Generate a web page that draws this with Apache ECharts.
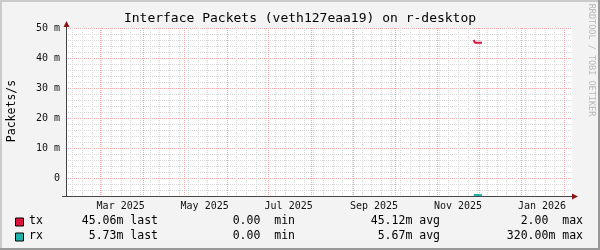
<!DOCTYPE html>
<html><head><meta charset="utf-8">
<script src="https://cdn.jsdelivr.net/npm/echarts@6/dist/echarts.min.js"></script>
<style>html,body{margin:0;padding:0;background:#f3f3f3}#c{width:600px;height:250px}</style>
</head><body><div id="c"></div>
<script>
const chartTitle = 'Interface Packets (veth127eaa19) on r-desktop';
const yAxisName = 'Packets/s';
const watermark = 'RRDTOOL / TOBI OETIKER';
// samples (values in milli packets/s; rx drawn mirrored below zero)
const sampleTimes = ['2025-11-27T10:00Z','2025-11-28T06:00Z','2025-11-29T00:00Z','2025-11-30T00:00Z','2025-12-01T00:00Z','2025-12-02T00:00Z','2025-12-03T10:00Z'];
const txValues = [46.0, 46.0, 45.1, 45.1, 45.1, 45.05, 45.06];
const rxValues = [-5.6, -5.6, -5.7, -5.65, -5.7, -5.7, -5.73];
// axes
const xStart = '2025-02-04T07:00Z';
const xEnd = '2026-02-06T19:00Z';
const monthGrid = ['2025-03-01','2025-04-01','2025-05-01','2025-06-01','2025-07-01','2025-08-01','2025-09-01','2025-10-01','2025-11-01','2025-12-01','2026-01-01','2026-02-01'];
const labelTimes = ['2025-03-16','2025-05-16','2025-07-16','2025-09-16','2025-11-16','2026-01-16'];
const labelTexts = ['Mar 2025','May 2025','Jul 2025','Sep 2025','Nov 2025','Jan 2026'];
const firstWeekLine = '2025-02-09';
const yTickValues = [0, 10, 20, 30, 40, 50];
const yTickTexts = ['0', '10 m', '20 m', '30 m', '40 m', '50 m'];
// legend
const seriesNames = ['tx', 'rx'];
const seriesColors = ['#DC143C', '#20B2AA'];
const lastTexts = ['45.06m last', '5.73m last'];
const minTexts = ['0.00  min', '0.00  min'];
const avgTexts = ['45.12m avg', '5.67m avg'];
const maxTexts = ['2.00  max', '320.00m max'];

const ts = s => new Date(s.length === 10 ? s + 'T00:00:00Z' : s).getTime();
const DAY = 86400000;
const MAJOR = '#f2a8a8';
const MINOR = '#d6d6d6';
const FONT = 'DejaVu Sans Mono';

const gridLines = [];
const monthTs = monthGrid.map(ts);
for (let t = ts(firstWeekLine); t < ts(xEnd); t += 7 * DAY) {
  if (monthTs.some(m => Math.abs(m - t) < DAY / 2)) continue;
  gridLines.push([t, 0]);
}
monthTs.forEach(t => gridLines.push([t, 1]));

const chart = echarts.init(document.getElementById('c'), null, { renderer: 'canvas' });

const graphics = [
  { type: 'rect', shape: { x: 0, y: 0, width: 600, height: 2 }, style: { fill: '#cbcbcb' }, z: -9 },
  { type: 'rect', shape: { x: 0, y: 0, width: 2, height: 250 }, style: { fill: '#cbcbcb' }, z: -9 },
  { type: 'rect', shape: { x: 0, y: 248, width: 600, height: 2 }, style: { fill: '#999999' }, z: -9 },
  { type: 'rect', shape: { x: 598, y: 0, width: 2, height: 250 }, style: { fill: '#999999' }, z: -9 },
  { type: 'text', x: 300, y: 19, style: { text: chartTitle, font: '13px "' + FONT + '"', fill: '#000', align: 'center', verticalAlign: 'middle' } },
  { type: 'text', x: 12, y: 111, rotation: Math.PI / 2, style: { text: yAxisName, font: '11.5px "' + FONT + '"', fill: '#000', align: 'center', verticalAlign: 'middle' } },
  { type: 'text', x: 591, y: 60, rotation: -Math.PI / 2, style: { text: watermark, font: '8.5px "' + FONT + '"', fill: '#b8b8b8', align: 'center', verticalAlign: 'middle' } },
  { type: 'line', shape: { x1: 66.5, y1: 24, x2: 66.5, y2: 28 }, style: { stroke: '#444', lineWidth: 1 }, z: 10 },
  { type: 'polygon', shape: { points: [[66.5, 21], [63.5, 27], [69.5, 27]] }, style: { fill: '#8b1515' }, z: 10 },
  { type: 'line', shape: { x1: 62, y1: 196.5, x2: 66, y2: 196.5 }, style: { stroke: '#444', lineWidth: 1 }, z: 10 },
  { type: 'polygon', shape: { points: [[578, 196.5], [572, 193.5], [572, 199.5]] }, style: { fill: '#8b1515' }, z: 10 }
];
seriesNames.forEach((n, i) => {
  const y = 221.5 + 15 * i;
  graphics.push({ type: 'rect', shape: { x: 15.5, y: y - 3.5, width: 8, height: 8 }, style: { fill: seriesColors[i], stroke: '#000', lineWidth: 1 } });
  const f = '11.5px "' + FONT + '"';
  graphics.push({ type: 'text', x: 29, y: y, style: { text: n, font: f, fill: '#000', align: 'left', verticalAlign: 'middle' } });
  graphics.push({ type: 'text', x: 158, y: y, style: { text: lastTexts[i], font: f, fill: '#000', align: 'right', verticalAlign: 'middle' } });
  graphics.push({ type: 'text', x: 295, y: y, style: { text: minTexts[i], font: f, fill: '#000', align: 'right', verticalAlign: 'middle' } });
  graphics.push({ type: 'text', x: 440, y: y, style: { text: avgTexts[i], font: f, fill: '#000', align: 'right', verticalAlign: 'middle' } });
  graphics.push({ type: 'text', x: 583, y: y, style: { text: maxTexts[i], font: f, fill: '#000', align: 'right', verticalAlign: 'middle' } });
});

const option = {
  backgroundColor: '#f3f3f3',
  animation: false,
  grid: { left: 66, right: 28, top: 28, bottom: 54, show: true, backgroundColor: '#ffffff', borderWidth: 0 },
  xAxis: {
    type: 'value', min: ts(xStart), max: ts(xEnd),
    axisLine: { show: true, onZero: false, lineStyle: { color: '#444', width: 1 } },
    axisTick: { show: false },
    splitLine: { show: false },
    axisLabel: {
      show: true, customValues: labelTimes.map(ts), margin: 5,
      formatter: v => { const k = labelTimes.map(ts).indexOf(v); return k >= 0 ? labelTexts[k] : ''; },
      fontFamily: FONT, fontSize: 10, color: '#111'
    }
  },
  yAxis: {
    type: 'value', min: -6, max: 50, interval: 2,
    axisLine: { show: true, onZero: false, lineStyle: { color: '#444', width: 1 } },
    axisTick: { show: false },
    splitLine: { show: true, lineStyle: { color: [MINOR, MINOR, MINOR, MAJOR, MINOR], type: [1, 1], width: 1 } },
    axisLabel: {
      interval: 0, margin: 6, fontFamily: FONT, fontSize: 10, color: '#111',
      formatter: v => { const k = yTickValues.indexOf(v); return k >= 0 ? yTickTexts[k] : ''; }
    }
  },
  series: [
    { type: 'custom', z: 1, silent: true, clip: true,
      data: gridLines,
      renderItem: (params, api) => {
        const x = Math.round(api.coord([api.value(0), 0])[0]) + 0.5;
        const cs = params.coordSys;
        return { type: 'line', shape: { x1: x, y1: cs.y, x2: x, y2: cs.y + cs.height },
          style: { stroke: api.value(1) ? MAJOR : MINOR, lineWidth: 1, lineDash: [1, 1] } };
      } },
    { name: 'tx', type: 'line', step: 'start', showSymbol: false, z: 5,
      lineStyle: { color: seriesColors[0], width: 2 }, itemStyle: { color: seriesColors[0] },
      data: sampleTimes.map((t, i) => [ts(t), txValues[i]]) },
    { name: 'rx', type: 'line', step: 'start', showSymbol: false, z: 5,
      lineStyle: { color: seriesColors[1], width: 2 }, itemStyle: { color: seriesColors[1] },
      data: sampleTimes.map((t, i) => [ts(t), rxValues[i]]) }
  ],
  graphic: graphics
};
chart.setOption(option);
</script>
</body></html>
